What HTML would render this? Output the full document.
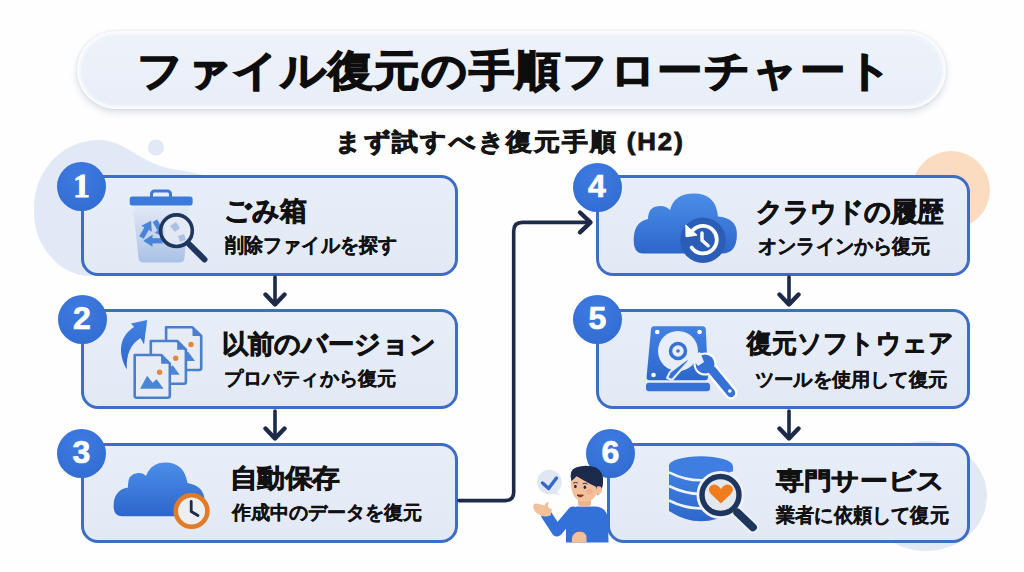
<!DOCTYPE html>
<html><head><meta charset="utf-8">
<style>
*{margin:0;padding:0;box-sizing:border-box}
html,body{width:1024px;height:572px;overflow:hidden;background:#fefefe}
body{position:relative;font-family:"Liberation Sans",sans-serif;color:#111}
.a{position:absolute}
.pill{left:77px;top:31px;width:869px;height:78px;border-radius:39px;background:linear-gradient(180deg,#eef3fa,#e8eef8);box-shadow:inset 0 0 3px 3px #fbfcfe,0 3px 7px rgba(130,145,170,.32),0 0 1.5px rgba(130,145,170,.35)}
.box{border:3px solid #3b6ec4;border-radius:17px;background:linear-gradient(180deg,#e8eef8,#e2e9f5)}
.badge{width:49px;height:49px;border-radius:50%;background:radial-gradient(circle at 45% 30%,#3e7be0,#2f69cf);color:#fff;font-weight:bold;font-size:32px;text-align:center;line-height:47px;-webkit-text-stroke:0.7px #fff}
.tx{white-space:nowrap;font-weight:bold;transform-origin:0 0;line-height:1.2}
</style></head><body>
<svg class="a" style="left:0;top:0" width="1024" height="572">
  <path d="M34 212 C33 165 68 139 100 140 C128 141 142 166 178 170 C196 172 212 178 212 178 L212 250 L90 276 C78 276 62 270 52 258 C40 245 34 230 34 212 Z" fill="#e0e9f5"/>
  <circle cx="156" cy="147.5" r="8" fill="#e0e9f5"/>
  <circle cx="951" cy="190" r="39" fill="#fbdcc0"/>
  <ellipse cx="926" cy="496" rx="61" ry="55" fill="#e1e9f5"/>
</svg>
<div class="a pill"></div>

<div class="a box" style="left:81px;top:175px;width:377px;height:101px"></div>
<div class="a box" style="left:81px;top:309px;width:377px;height:100px"></div>
<div class="a box" style="left:81px;top:443px;width:377px;height:100px"></div>
<div class="a box" style="left:596px;top:175px;width:374px;height:101px"></div>
<div class="a box" style="left:596px;top:309px;width:374px;height:100px"></div>
<div class="a box" style="left:607px;top:443px;width:363px;height:100px"></div>

<svg class="a" style="left:0;top:0" width="1024" height="572" fill="none" stroke="#1d2a48" stroke-linecap="round" stroke-linejoin="round">
  <path d="M275 277 V304 M789 277 V304 M275 411 V438 M789 411 V438" stroke-width="3.6"/>
  <path d="M265.5 294.5 L275 304.5 L284.5 294.5 M779.5 294.5 L789 304.5 L798.5 294.5 M265.5 428.5 L275 438.5 L284.5 428.5 M779.5 428.5 L789 438.5 L798.5 428.5" stroke-width="4.4"/>
  <path d="M459 500.6 H505 Q513.7 500.6 513.7 492 V231 Q513.7 222.4 522.4 222.4 H590" stroke-width="3.6"/>
  <path d="M580 212.5 L590.5 222.4 L580 232.3" stroke-width="4.4"/>
</svg>

<div class="a badge" style="left:57px;top:162px;font-family:'Liberation Serif',serif;font-size:33px;line-height:49px;-webkit-text-stroke:1px #fff">1</div>
<div class="a badge" style="left:57.5px;top:295px">2</div>
<div class="a badge" style="left:57px;top:429px">3</div>
<div class="a badge" style="left:572.5px;top:162.5px">4</div>
<div class="a badge" style="left:573px;top:295px">5</div>
<div class="a badge" style="left:586px;top:429px">6</div>

<svg class="a ic" style="left:0;top:0" width="1024" height="572">
<defs>
  <linearGradient id="gBin" x1="0" y1="0" x2="0" y2="1"><stop offset="0" stop-color="#e3eaf5"/><stop offset="1" stop-color="#a9c1e6"/></linearGradient>
  <linearGradient id="gCloud" x1="0" y1="0" x2="0" y2="1"><stop offset="0" stop-color="#4b8ee9"/><stop offset="1" stop-color="#2d66ca"/></linearGradient>
  <linearGradient id="gBlue" x1="0" y1="0" x2="0" y2="1"><stop offset="0" stop-color="#4282e2"/><stop offset="1" stop-color="#2e67cc"/></linearGradient>
</defs>
<!-- ICON 1: trash + magnifier -->
<g>
  <rect x="151.5" y="191" width="19" height="9" rx="3" fill="none" stroke="#3b7ad9" stroke-width="3"/>
  <path d="M132.6 205.5 H189.2 L184.5 258 Q184 262.5 179.5 262.5 H143.5 Q139 262.5 138.6 258 Z" fill="url(#gBin)"/>
  <rect x="129.7" y="196.5" width="62.9" height="9" rx="2.5" fill="#3b7ad9"/>
  <g><path d="M154.9 220.8 L160.4 230.3" stroke="#4a84d8" stroke-width="5.2" stroke-linecap="butt"/><path d="M154.8 232.6 L164.5 237.5 L165.2 226.6 Z" fill="#4a84d8"/><path d="M162.7 240.8 L151.7 240.8" stroke="#4a84d8" stroke-width="5.2" stroke-linecap="butt"/><path d="M152.5 234.8 L143.3 240.8 L152.5 246.8 Z" fill="#4a84d8"/><path d="M141.5 237.5 L147.0 228.0" stroke="#4a84d8" stroke-width="5.2" stroke-linecap="butt"/><path d="M151.8 231.7 L151.1 220.8 L141.4 225.7 Z" fill="#4a84d8"/></g>
  <circle cx="176.5" cy="230.7" r="15.8" fill="#e6ecf4" fill-opacity=".85" stroke="#1e355e" stroke-width="3.6"/>
  <path d="M170 226 L176 222 L180 228 L175 232 Z" fill="#9fb8df" opacity=".8"/>
  <path d="M178 236 L184 234 L186 240 L180 242 Z" fill="#9fb8df" opacity=".8"/>
  <path d="M189.5 244.5 L204.5 259.5" stroke="#1e355e" stroke-width="6" stroke-linecap="round"/>
</g>
<!-- ICON 2: documents + arrow -->
<g>
  <path d="M126.8 369.5 C117 352 120 336 134 327 L131 323.5 L147.2 320 L144 344.5 L140.5 338 C131 344 126 354 126.8 369.5 Z" fill="url(#gBlue)"/>
  <g>
    <path d="M166.1 327.3 H192.5 L201.2 336 V368 Q201.2 370 199.2 370 H168.1 Q166.1 370 166.1 368 Z" fill="#e7ecf4" stroke="#4a7fcc" stroke-width="2.6" stroke-linejoin="round"/>
    <path d="M192.5 327.3 V336 H201.2 Z" fill="#4a7fcc"/>
    <path d="M171.5 361 L178.5 348 L184 355 L188 351.5 L195 361 Z" fill="#4a86d6"/>
    <circle cx="191" cy="344.5" r="2.7" fill="#e08a3a"/>
  </g>
  <g transform="translate(-15.3,13.7)">
    <path d="M166.1 327.3 H192.5 L201.2 336 V368 Q201.2 370 199.2 370 H168.1 Q166.1 370 166.1 368 Z" fill="#e7ecf4" stroke="#4a7fcc" stroke-width="2.6" stroke-linejoin="round"/>
    <path d="M192.5 327.3 V336 H201.2 Z" fill="#4a7fcc"/>
    <path d="M171.5 361 L178.5 348 L184 355 L188 351.5 L195 361 Z" fill="#4a86d6"/>
    <circle cx="191" cy="344.5" r="2.7" fill="#e08a3a"/>
  </g>
  <g transform="translate(-31.4,27.7)">
    <path d="M166.1 327.3 H192.5 L201.2 336 V368 Q201.2 370 199.2 370 H168.1 Q166.1 370 166.1 368 Z" fill="#e7ecf4" stroke="#4a7fcc" stroke-width="2.6" stroke-linejoin="round"/>
    <path d="M192.5 327.3 V336 H201.2 Z" fill="#4a7fcc"/>
    <path d="M171.5 361 L178.5 348 L184 355 L188 351.5 L195 361 Z" fill="#4a86d6"/>
    <circle cx="191" cy="344.5" r="2.7" fill="#e08a3a"/>
  </g>
</g>
<!-- ICON 3: cloud + clock -->
<g>
  <path d="M122 516.2 Q113.6 516.2 113.6 506 Q113.6 490 128 487.5 Q127 474 138 473 Q143 472.5 146 476 Q151 462.5 165.5 462.5 Q184 462.5 187.5 483 Q204.6 486 204.6 501 Q204.6 516.2 192 516.2 Z" fill="url(#gCloud)"/>
  <circle cx="191.6" cy="511" r="15.8" fill="#eceef1" stroke="#e07b2a" stroke-width="4.6"/>
  <path d="M191.2 501.5 V511.5 L197.9 515.5" fill="none" stroke="#1d2a48" stroke-width="2.8" stroke-linecap="round" stroke-linejoin="round"/>
</g>
<!-- ICON 4: cloud + restore -->
<g>
  <path d="M643 253.5 Q633.7 253.5 633.7 240 Q633.7 222 648 219 Q648 206 660.7 206 Q666 206 670 210 Q674 193.4 694 193.4 Q716 193.4 718 216.5 Q736.9 218 736.9 234 Q736.9 253.5 722 253.5 Z" fill="url(#gCloud)"/>
  <circle cx="703" cy="240.2" r="22.8" fill="#2b5db6"/>
  <path d="M693.2 229.9 A13.8 13.8 0 1 1 691.7 247.6" fill="none" stroke="#fff" stroke-width="3.8" stroke-linecap="round"/>
  <path d="M685.8 225 L686 236.8 L697 235.2 Z" fill="#fff" stroke="#fff" stroke-width="1" stroke-linejoin="round"/>
  <path d="M702 233 V240.4 L708.2 245.7" fill="none" stroke="#fff" stroke-width="3.4" stroke-linecap="round" stroke-linejoin="round"/>
</g>
<!-- ICON 5: HDD + wrench -->
<g>
  <path d="M654 326.3 H702.5 Q705.5 326.3 705.8 329.5 L708 377 Q708 380.3 705 380.3 H649.5 Q646.4 380.3 646.6 377 L651 329.5 Q651.3 326.3 654 326.3 Z" fill="url(#gBlue)"/>
  <rect x="646" y="382.8" width="64" height="8.4" rx="3" fill="#3672d6"/>
  <circle cx="657.3" cy="332" r="2.3" fill="#fff"/><circle cx="699.6" cy="332" r="2.3" fill="#fff"/><circle cx="653.5" cy="375" r="2.3" fill="#fff"/>
  <circle cx="678" cy="351" r="20" fill="#e8eef8"/>
  <circle cx="678" cy="351" r="7.5" fill="none" stroke="#3672d6" stroke-width="3.5"/>
  <circle cx="678" cy="351" r="1.8" fill="#3672d6"/>
  <path d="M690 357 L688 362 L672 380 L667 378 L670 372 Z" fill="#3672d6" stroke="#e8eef8" stroke-width="2" stroke-linejoin="round"/>
  <path d="M731 393 L712 370" stroke="#fff" stroke-width="13" stroke-linecap="round"/>
  <circle cx="705" cy="364" r="11.5" fill="#fff"/>
  <path d="M731 393 L712 370" stroke="#3672d6" stroke-width="8.5" stroke-linecap="round"/>
  <circle cx="705" cy="364" r="9.5" fill="#3672d6"/>
  <path d="M690 356 L700 352 L704 362 L698 366 Z" fill="#e8eef8"/>
  <circle cx="729.8" cy="391" r="1.8" fill="#fff"/>
</g>
<!-- ICON 6: database + magnifier -->
<g>
  <path d="M669 466 V511 Q701 531.6 733 511 V466 Z" fill="url(#gBlue)"/>
  <ellipse cx="700.8" cy="465.8" rx="32" ry="9.6" fill="#3f7ee0"/>
  <g fill="none" stroke="#eef2f8" stroke-width="2.6">
    <path d="M669 472.3 Q701 488.3 733 472.3"/>
    <path d="M669 486 Q701 502 733 486"/>
    <path d="M669 500.5 Q701 516.5 733 500.5"/>
  </g>
  <circle cx="720.5" cy="495" r="24" fill="#eef2f8"/>
  <path d="M737.3 512.4 L752.9 527.3" stroke="#eef2f8" stroke-width="12" stroke-linecap="round"/>
  <circle cx="720.5" cy="495" r="18.5" fill="#e3e8ef" stroke="#1e355e" stroke-width="5.4"/>
  <path d="M737.3 512.4 L752.9 527.3" stroke="#1e355e" stroke-width="8" stroke-linecap="round"/>
  <path d="M720.9 503.5 L711 494 Q707.5 490 710 486.5 Q713 483.5 716.5 485 Q719 486 720.9 489 Q722.8 486 725.3 485 Q728.8 483.5 731.8 486.5 Q734.3 490 730.8 494 Z" fill="#f07c1e"/>
</g>
<!-- person -->
<g>
  <circle cx="549.4" cy="482" r="12.3" fill="#dfe7f2"/>
  <path d="M555 491 L561 495.5 L552.5 493.5 Z" fill="#dfe7f2"/>
  <path d="M542.5 483 L548.6 488.5 L556.5 478" fill="none" stroke="#3467c8" stroke-width="3.4" stroke-linecap="round" stroke-linejoin="round"/>
  <path d="M566 542.5 V520 Q566 508 577 506.5 H595 Q606 507 608 518 L608.5 542.5 Z" fill="#3371d9"/>
  <path d="M573 512 L557 531 L546.5 515" fill="none" stroke="#3371d9" stroke-width="11" stroke-linecap="round" stroke-linejoin="round"/>
  <path d="M533.5 505 Q532.5 510 537 513.5 Q543 518 550.5 515.5 L552 509.5 L548 507 L548.5 502 Q546 501.5 544.5 505.5 L537 503.5 Q534 503 533.5 505 Z" fill="#f4c09a"/>
  <path d="M572 542.5 Q571 534 577 532 Q585 530.5 586.5 536.5 L586.5 542.5 Z" fill="#f4c09a"/>
  <path d="M578 496 H591 V505 Q584.5 509 578 505 Z" fill="#eeb48c"/>
  <path d="M571 479 Q570 501 584 501.5 Q594 501.5 596.5 493.5 L597 476 Q584 468 571 479 Z" fill="#f4c09a"/>
  <ellipse cx="589.5" cy="491.5" rx="3" ry="2.2" fill="#ee9f86" opacity=".55"/>
  <path d="M571.4 481 Q568.5 470 576 467.5 Q586 464 596 467.5 Q604.5 472 603 484 Q602 491 597.5 495.5 L596.5 488 Q596 486 595 486.2 L588.8 483.2 L576.6 476.2 Q574 479 571.4 481 Z" fill="#1c2a4c"/>
  <path d="M596 494.5 Q601.5 495 602 490 Q602 485.5 597 486.5 Z" fill="#f4c09a"/>
  <ellipse cx="575.4" cy="486.5" rx="1.3" ry="1.7" fill="#1c2a4c"/><ellipse cx="584.9" cy="487.3" rx="1.3" ry="1.7" fill="#1c2a4c"/>
  <path d="M573.5 483 Q575.5 481.8 577.5 482.8 M583 483.6 Q585 482.6 587 483.8" fill="none" stroke="#1c2a4c" stroke-width="0.9" stroke-linecap="round"/>
  <path d="M577 495 Q580 498.5 583.4 495.2 Z" fill="#7a2e22" stroke="#7a2e22" stroke-width="1" stroke-linejoin="round"/>
</g>
</svg>

<div class="a tx title" style="left:137.07px;top:45.93px;font-size:46px;-webkit-text-stroke:1.5px #0d0d0d;color:#0d0d0d;letter-spacing:1px;transform:scale(0.9933,0.9184)">ファイル復元の手順フローチャート</div>
<div class="a tx sub" style="left:335.11px;top:128.11px;font-size:26px;-webkit-text-stroke:0.9px #141414;color:#141414;letter-spacing:2px;transform:scale(0.9913,0.9207)">まず試すべき復元手順 (H2)</div>
<div class="a tx t1" style="left:224.39px;top:195.11px;font-size:27px;-webkit-text-stroke:0.8px #111;color:#111;letter-spacing:0px;transform:scale(1.0025,1.0000)">ごみ箱</div>
<div class="a tx t2" style="left:225.00px;top:233.77px;font-size:19px;-webkit-text-stroke:0.25px #111;color:#111;letter-spacing:0px;transform:scale(1.0059,1.0600)">削除ファイルを探す</div>
<div class="a tx t1" style="left:221.75px;top:328.73px;font-size:27px;-webkit-text-stroke:0.8px #111;color:#111;letter-spacing:0px;transform:scale(0.9670,0.9593)">以前のバージョン</div>
<div class="a tx t2" style="left:223.95px;top:368.00px;font-size:19px;-webkit-text-stroke:0.25px #111;color:#111;letter-spacing:0px;transform:scale(1.0059,1.0000)">プロパティから復元</div>
<div class="a tx t1" style="left:230.07px;top:463.33px;font-size:27px;-webkit-text-stroke:0.8px #111;color:#111;letter-spacing:0px;transform:scale(1.0114,0.9464)">自動保存</div>
<div class="a tx t2" style="left:232.00px;top:502.00px;font-size:19px;-webkit-text-stroke:0.25px #111;color:#111;letter-spacing:0px;transform:scale(1.0000,1.0000)">作成中のデータを復元</div>
<div class="a tx t1" style="left:756.37px;top:196.31px;font-size:27px;-webkit-text-stroke:0.8px #111;color:#111;letter-spacing:0px;transform:scale(0.9632,0.9815)">クラウドの履歴</div>
<div class="a tx t2" style="left:758.16px;top:235.36px;font-size:19px;-webkit-text-stroke:0.25px #111;color:#111;letter-spacing:0px;transform:scale(1.0094,1.0526)">オンラインから復元</div>
<div class="a tx t1" style="left:747.47px;top:328.47px;font-size:27px;-webkit-text-stroke:0.8px #111;color:#111;letter-spacing:0px;transform:scale(0.9312,0.9786)">復元ソフトウェア</div>
<div class="a tx t2" style="left:754.96px;top:369.19px;font-size:19px;-webkit-text-stroke:0.25px #111;color:#111;letter-spacing:0px;transform:scale(1.0106,0.9950)">ツールを使用して復元</div>
<div class="a tx t1" style="left:776.02px;top:466.58px;font-size:27px;-webkit-text-stroke:0.8px #111;color:#111;letter-spacing:0px;transform:scale(1.0247,0.8857)">専門サービス</div>
<div class="a tx t2" style="left:776.00px;top:503.68px;font-size:19px;-webkit-text-stroke:0.25px #111;color:#111;letter-spacing:0px;transform:scale(1.0099,1.0526)">業者に依頼して復元</div>
</body></html>
